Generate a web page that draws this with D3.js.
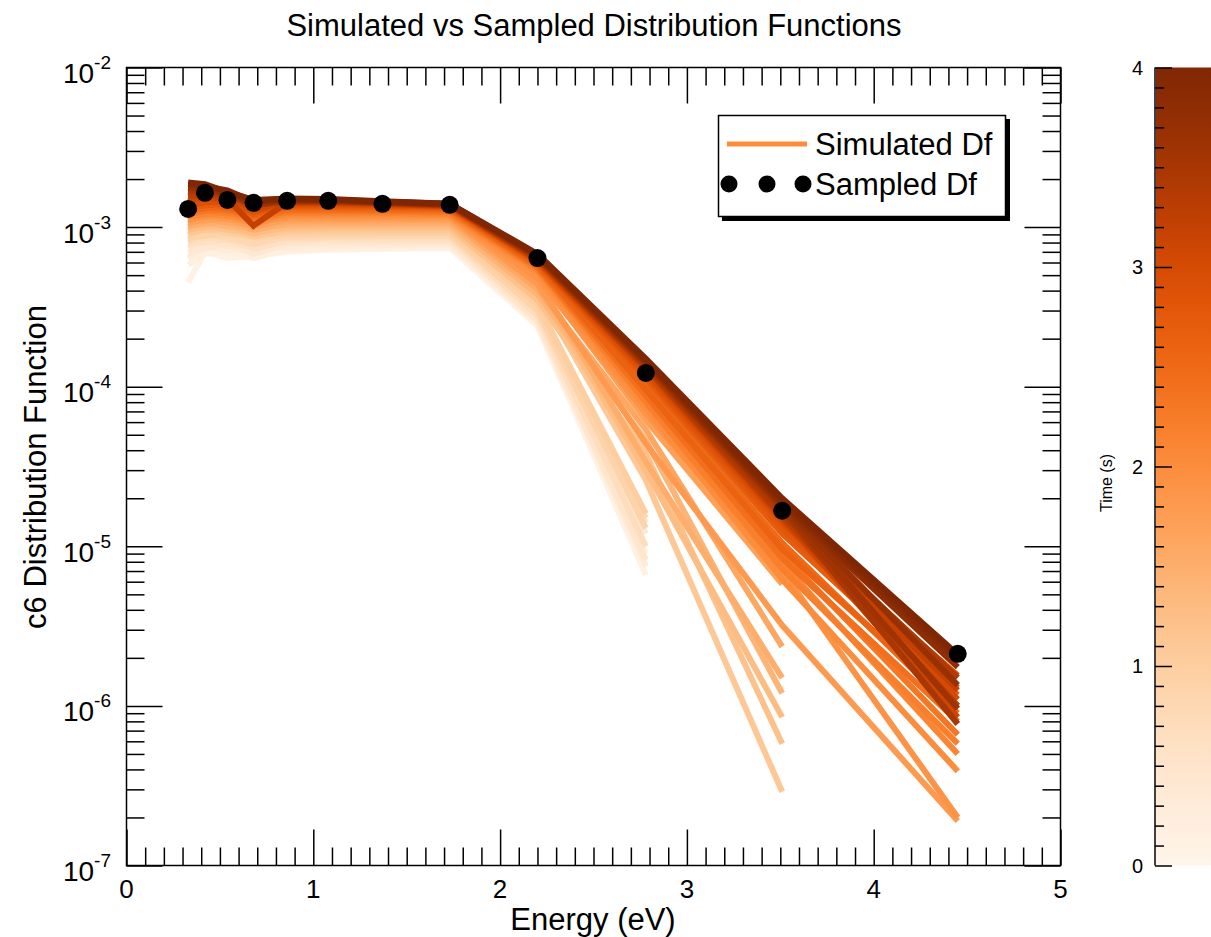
<!DOCTYPE html>
<html><head><meta charset="utf-8">
<script src="https://cdn.jsdelivr.net/npm/d3@7"></script>
<style>
body{margin:0;background:#fff}
svg{display:block}
text{font-family:"Liberation Sans",Arial,Helvetica,sans-serif;fill:#000}
</style>
</head><body><svg id="c" width="1211" height="937"></svg>
<script>
// ---------- data ----------
const energies = [0.33, 0.42, 0.54, 0.68, 0.86, 1.08, 1.37, 1.73, 2.2, 2.78, 3.51, 4.45];
const sampledDf = [1.30e-3, 1.64e-3, 1.48e-3, 1.42e-3, 1.46e-3, 1.46e-3, 1.40e-3, 1.38e-3, 6.4e-4, 1.22e-4, 1.67e-5, 2.12e-6];
const times = [0.1,0.2,0.3,0.4,0.5,0.6,0.7,0.8,0.9,1.0,1.1,1.2,1.3,1.4,1.5,1.6,1.7,1.8,1.9,2.0,2.1,2.2,2.3,2.4,2.5,2.6,2.7,2.8,2.9,3.0,3.1,3.2,3.3,3.4,3.5,3.6,3.7,3.8,3.9,4.0];
const simulatedDf = [
 [4.5e-4, 7.0e-4, 6.4e-4, 6.6e-4, 7.0e-4, 7.2e-4, 7.3e-4, 7.4e-4, 2.4e-4, 6.6e-6, null, null],
 [5.8e-4, 6.8e-4, 7.0e-4, 6.4e-4, 7.2e-4, 7.4e-4, 7.5e-4, 7.6e-4, 2.7e-4, 9.0e-6, null, null],
 [6.4e-4, 7.6e-4, 7.2e-4, 7.3e-4, 7.5e-4, 7.7e-4, 7.7e-4, 7.8e-4, 2.5e-4, 7.5e-6, null, null],
 [6.9e-4, 7.3e-4, 7.8e-4, 6.8e-4, 7.8e-4, 7.9e-4, 8.0e-4, 8.0e-4, 2.9e-4, 1.2e-5, null, null],
 [7.4e-4, 8.2e-4, 7.6e-4, 7.8e-4, 8.0e-4, 8.2e-4, 8.2e-4, 8.2e-4, 2.6e-4, 8.2e-6, null, null],
 [7.8e-4, 8.0e-4, 8.4e-4, 7.3e-4, 8.2e-4, 8.4e-4, 8.3e-4, 8.4e-4, 3.1e-4, 1.4e-5, null, null],
 [8.0e-4, 8.6e-4, 8.3e-4, 8.2e-4, 8.5e-4, 8.6e-4, 8.6e-4, 8.6e-4, 2.8e-4, 1.0e-5, null, null],
 [8.3e-4, 9.1e-4, 8.6e-4, 7.8e-4, 8.7e-4, 8.7e-4, 8.8e-4, 8.8e-4, 3.3e-4, 1.5e-5, null, null],
 [8.6e-4, 8.8e-4, 9.1e-4, 8.6e-4, 8.9e-4, 9.0e-4, 9.0e-4, 9.0e-4, 3.0e-4, 1.3e-5, null, null],
 [8.9e-4, 9.8e-4, 9.2e-4, 8.9e-4, 9.2e-4, 9.3e-4, 9.3e-4, 9.3e-4, 3.3e-4, 1.6e-5, null, null],
 [9.2e-4, 9.6e-4, 9.8e-4, 8.7e-4, 9.5e-4, 9.6e-4, 9.6e-4, 9.6e-4, 3.9e-4, 2.6e-5, 2.9e-7, null],
 [9.5e-4, 1.03e-3, 9.6e-4, 9.4e-4, 9.8e-4, 9.9e-4, 9.9e-4, 9.9e-4, 3.5e-4, 3.8e-5, 5.8e-7, null],
 [9.7e-4, 1.0e-3, 1.04e-3, 9.1e-4, 1.0e-3, 1.01e-3, 1.01e-3, 1.02e-3, 4.3e-4, 3.0e-5, 8.5e-7, null],
 [1.0e-3, 1.08e-3, 1.01e-3, 9.9e-4, 1.03e-3, 1.04e-3, 1.04e-3, 1.04e-3, 3.8e-4, 4.6e-5, 1.2e-6, null],
 [1.02e-3, 1.05e-3, 1.09e-3, 9.6e-4, 1.06e-3, 1.07e-3, 1.07e-3, 1.07e-3, 4.6e-4, 3.4e-5, 1.5e-6, null],
 [1.05e-3, 1.13e-3, 1.07e-3, 1.04e-3, 1.09e-3, 1.09e-3, 1.10e-3, 1.10e-3, 4.1e-4, 5.4e-5, 2.35e-6, null],
 [1.07e-3, 1.10e-3, 1.14e-3, 1.0e-3, 1.12e-3, 1.12e-3, 1.12e-3, 1.12e-3, 5.0e-4, 6.2e-5, 5.8e-6, null],
 [1.10e-3, 1.18e-3, 1.12e-3, 1.09e-3, 1.14e-3, 1.15e-3, 1.15e-3, 1.15e-3, 4.4e-4, 4.4e-5, 3.2e-6, 1.9e-7],
 [1.12e-3, 1.16e-3, 1.19e-3, 1.05e-3, 1.17e-3, 1.17e-3, 1.17e-3, 1.17e-3, 4.8e-4, 6.8e-5, 7.0e-6, 2.0e-7],
 [1.15e-3, 1.22e-3, 1.17e-3, 1.12e-3, 1.19e-3, 1.20e-3, 1.20e-3, 1.19e-3, 5.2e-4, 7.4e-5, 6.2e-6, 3.9e-7],
 [1.18e-3, 1.20e-3, 1.24e-3, 1.08e-3, 1.22e-3, 1.22e-3, 1.22e-3, 1.21e-3, 5.4e-4, 8.4e-5, 7.8e-6, 5.0e-7],
 [1.20e-3, 1.28e-3, 1.22e-3, 1.17e-3, 1.24e-3, 1.24e-3, 1.24e-3, 1.23e-3, 5.5e-4, 8.0e-5, 7.2e-6, 5.8e-7],
 [1.22e-3, 1.26e-3, 1.30e-3, 1.12e-3, 1.26e-3, 1.27e-3, 1.26e-3, 1.25e-3, 5.7e-4, 9.2e-5, 9.0e-6, 6.6e-7],
 [1.25e-3, 1.34e-3, 1.27e-3, 1.22e-3, 1.28e-3, 1.29e-3, 1.28e-3, 1.27e-3, 5.6e-4, 8.8e-5, 8.4e-6, 8.0e-7],
 [1.27e-3, 1.31e-3, 1.35e-3, 1.16e-3, 1.31e-3, 1.31e-3, 1.30e-3, 1.29e-3, 5.9e-4, 1.0e-4, 1.05e-5, 9.0e-7],
 [1.30e-3, 1.40e-3, 1.32e-3, 1.27e-3, 1.33e-3, 1.33e-3, 1.32e-3, 1.30e-3, 5.8e-4, 9.6e-5, 9.6e-6, 1.0e-6],
 [1.32e-3, 1.37e-3, 1.40e-3, 1.20e-3, 1.35e-3, 1.35e-3, 1.34e-3, 1.32e-3, 6.0e-4, 1.12e-4, 1.2e-5, 1.17e-6],
 [1.35e-3, 1.46e-3, 1.38e-3, 1.31e-3, 1.37e-3, 1.37e-3, 1.36e-3, 1.33e-3, 6.1e-4, 1.18e-4, 1.3e-5, 1.3e-6],
 [1.37e-3, 1.43e-3, 1.45e-3, 1.25e-3, 1.39e-3, 1.39e-3, 1.37e-3, 1.34e-3, 6.1e-4, 1.22e-4, 1.4e-5, 1.55e-6],
 [1.45e-3, 1.55e-3, 1.45e-3, 1.35e-3, 1.41e-3, 1.41e-3, 1.39e-3, 1.35e-3, 6.2e-4, 1.27e-4, 1.45e-5, 1.1e-6],
 [1.50e-3, 1.52e-3, 1.55e-3, 1.30e-3, 1.42e-3, 1.42e-3, 1.40e-3, 1.36e-3, 6.25e-4, 1.30e-4, 1.5e-5, 8.5e-7],
 [1.55e-3, 1.62e-3, 1.50e-3, 1.02e-3, 1.43e-3, 1.43e-3, 1.40e-3, 1.36e-3, 6.3e-4, 1.32e-4, 1.52e-5, 1.25e-6],
 [1.60e-3, 1.58e-3, 1.60e-3, 1.38e-3, 1.44e-3, 1.44e-3, 1.41e-3, 1.37e-3, 6.35e-4, 1.33e-4, 1.55e-5, 1.0e-6],
 [1.65e-3, 1.70e-3, 1.55e-3, 1.42e-3, 1.45e-3, 1.45e-3, 1.42e-3, 1.37e-3, 6.4e-4, 1.35e-4, 1.6e-5, 1.5e-6],
 [1.70e-3, 1.65e-3, 1.62e-3, 1.36e-3, 1.46e-3, 1.46e-3, 1.42e-3, 1.38e-3, 6.5e-4, 1.38e-4, 1.7e-5, 7.7e-7],
 [1.75e-3, 1.78e-3, 1.58e-3, 1.44e-3, 1.47e-3, 1.47e-3, 1.43e-3, 1.38e-3, 6.55e-4, 1.40e-4, 1.75e-5, 9.6e-7],
 [1.78e-3, 1.72e-3, 1.66e-3, 1.40e-3, 1.48e-3, 1.47e-3, 1.43e-3, 1.39e-3, 6.6e-4, 1.42e-4, 1.8e-5, 1.35e-6],
 [1.82e-3, 1.84e-3, 1.62e-3, 1.47e-3, 1.49e-3, 1.48e-3, 1.44e-3, 1.39e-3, 6.65e-4, 1.44e-4, 1.85e-5, 1.75e-6],
 [1.86e-3, 1.80e-3, 1.70e-3, 1.44e-3, 1.50e-3, 1.49e-3, 1.44e-3, 1.40e-3, 6.7e-4, 1.46e-4, 1.9e-5, 1.95e-6],
 [1.90e-3, 1.86e-3, 1.66e-3, 1.48e-3, 1.51e-3, 1.50e-3, 1.45e-3, 1.40e-3, 6.8e-4, 1.50e-4, 2.0e-5, 2.1e-6]
];
const xMajorTicks = [0, 1, 2, 3, 4, 5];
const yDecadeExps = [-7, -6, -5, -4, -3, -2];
const timeTicks = [0, 1, 2, 3, 4];
const titleText = "Simulated vs Sampled Distribution Functions";
const xLabel = "Energy (eV)";
const yLabel = "c6 Distribution Function";
const cbLabel = "Time (s)";
const legendLabels = ["Simulated Df", "Sampled Df"];

// ---------- layout ----------
const svg = d3.select("#c");
const L = 126.5, R = 1060.5, T = 67.5, B = 865.5;
const x = d3.scaleLinear().domain([0, 5]).range([L, R]);
const y = d3.scaleLog().domain([1e-7, 1e-2]).range([B, T]);
const color = t => d3.interpolateOranges(t / 4);

// lines
const line = d3.line().defined(d => d[1] != null).x(d => x(d[0])).y(d => y(d[1]));
const gLines = svg.append("g");
simulatedDf.forEach((vals, i) => {
  gLines.append("path")
    .attr("d", line(energies.map((e, j) => [e, vals[j]])))
    .attr("fill", "none").attr("stroke", color(times[i]))
    .attr("stroke-width", 6).attr("stroke-linejoin", "miter").attr("stroke-linecap", "butt");
});
// sampled points
svg.append("g").selectAll("circle").data(energies).join("circle")
  .attr("cx", d => x(d)).attr("cy", (d, i) => y(sampledDf[i])).attr("r", 9).attr("fill", "#000");

// axes
const minorX = d3.range(0, 50).map(i => i / 10).filter(v => Math.abs(v - Math.round(v)) > 1e-6);
const minorY = [];
yDecadeExps.slice(0, -1).forEach(e => { for (let k = 2; k <= 9; k++) minorY.push(k * Math.pow(10, e)); });
const decades = yDecadeExps.map(e => Math.pow(10, e));

function styleAxis(g) {
  g.selectAll("path.domain").remove();
  g.selectAll("line").attr("stroke", "#000").attr("stroke-width", 1.5);
  g.selectAll("text").remove();
}
svg.append("g").attr("transform", `translate(0,${B})`).call(d3.axisBottom(x).tickValues(xMajorTicks).tickSize(-36)).call(styleAxis);
svg.append("g").attr("transform", `translate(0,${B})`).call(d3.axisBottom(x).tickValues(minorX).tickSize(-18)).call(styleAxis);
svg.append("g").attr("transform", `translate(0,${T})`).call(d3.axisTop(x).tickValues(xMajorTicks).tickSize(-36)).call(styleAxis);
svg.append("g").attr("transform", `translate(0,${T})`).call(d3.axisTop(x).tickValues(minorX).tickSize(-18)).call(styleAxis);
svg.append("g").attr("transform", `translate(${L},0)`).call(d3.axisLeft(y).tickValues(decades).tickSize(-36)).call(styleAxis);
svg.append("g").attr("transform", `translate(${L},0)`).call(d3.axisLeft(y).tickValues(minorY).tickSize(-18)).call(styleAxis);
svg.append("g").attr("transform", `translate(${R},0)`).call(d3.axisRight(y).tickValues(decades).tickSize(-36)).call(styleAxis);
svg.append("g").attr("transform", `translate(${R},0)`).call(d3.axisRight(y).tickValues(minorY).tickSize(-18)).call(styleAxis);
svg.append("rect").attr("x", L).attr("y", T).attr("width", R - L).attr("height", B - T)
  .attr("fill", "none").attr("stroke", "#000").attr("stroke-width", 1.5);

// tick labels
svg.append("g").selectAll("text").data(xMajorTicks).join("text")
  .attr("x", d => x(d)).attr("y", B + 32).attr("text-anchor", "middle")
  .attr("font-size", 26).text(d => d);
const yl = svg.append("g").selectAll("text").data(yDecadeExps).join("text")
  .attr("x", 111).attr("y", d => y(Math.pow(10, d)) + 15.5).attr("text-anchor", "end");
yl.append("tspan").attr("font-size", 28).text("10");
yl.append("tspan").attr("font-size", 19).attr("dy", -14).text(d => d);

// axis titles
svg.append("text").attr("x", 594).attr("y", 36).attr("text-anchor", "middle").attr("font-size", 31).text(titleText);
svg.append("text").attr("x", 593).attr("y", 930).attr("text-anchor", "middle").attr("font-size", 31).text(xLabel);
svg.append("text").attr("transform", "translate(46,467) rotate(-90)").attr("text-anchor", "middle").attr("font-size", 31).text(yLabel);

// legend
const lg = svg.append("g");
lg.append("rect").attr("x", 722).attr("y", 119).attr("width", 288).attr("height", 102).attr("fill", "#000");
lg.append("rect").attr("x", 718.5).attr("y", 115.5).attr("width", 287).attr("height", 101).attr("fill", "#fff").attr("stroke", "#000").attr("stroke-width", 1.5);
lg.append("line").attr("x1", 727).attr("x2", 807).attr("y1", 144).attr("y2", 144).attr("stroke", "#fd8d3c").attr("stroke-width", 5);
lg.append("text").attr("x", 815).attr("y", 155).attr("font-size", 31).text(legendLabels[0]);
lg.selectAll("circle").data([729, 767, 803]).join("circle").attr("cx", d => d).attr("cy", 184).attr("r", 8.5).attr("fill", "#000");
lg.append("text").attr("x", 815).attr("y", 195).attr("font-size", 31).text(legendLabels[1]);

// colorbar
const cbX = 1156, cbW = 60;
const cy = d3.scaleLinear().domain([0, 4]).range([B, T]);
const grad = svg.append("defs").append("linearGradient").attr("id", "cbg")
  .attr("x1", 0).attr("y1", 1).attr("x2", 0).attr("y2", 0);
d3.range(0, 21).forEach(i => grad.append("stop").attr("offset", i / 20).attr("stop-color", d3.interpolateOranges(i / 20)));
svg.append("rect").attr("x", cbX).attr("y", T).attr("width", cbW).attr("height", B - T).attr("fill", "url(#cbg)");
const cbMinor = d3.range(0, 41).map(i => i / 10).filter(v => Math.abs(v - Math.round(v)) > 1e-6);
const cbg1 = svg.append("g").attr("transform", `translate(${cbX - 1},0)`).call(d3.axisRight(cy).tickValues(timeTicks).tickSize(17));
cbg1.select("path.domain").remove();
cbg1.selectAll("line").attr("stroke", "#000").attr("stroke-width", 1.5);
cbg1.selectAll("text").remove();
const cbg2 = svg.append("g").attr("transform", `translate(${cbX - 1},0)`).call(d3.axisRight(cy).tickValues(cbMinor).tickSize(9));
cbg2.select("path.domain").remove();
cbg2.selectAll("line").attr("stroke", "#000").attr("stroke-width", 1.5);
cbg2.selectAll("text").remove();
svg.append("line").attr("x1", cbX - 1).attr("x2", cbX - 1).attr("y1", T).attr("y2", B).attr("stroke", "#000").attr("stroke-width", 1.5);
svg.append("g").selectAll("text").data(timeTicks).join("text")
  .attr("x", 1143).attr("y", d => cy(d) + 7).attr("text-anchor", "end").attr("font-size", 20).text(d => d);
svg.append("text").attr("transform", "translate(1112,483) rotate(-90)").attr("text-anchor", "middle").attr("font-size", 16).text(cbLabel);
</script>
</body></html>
